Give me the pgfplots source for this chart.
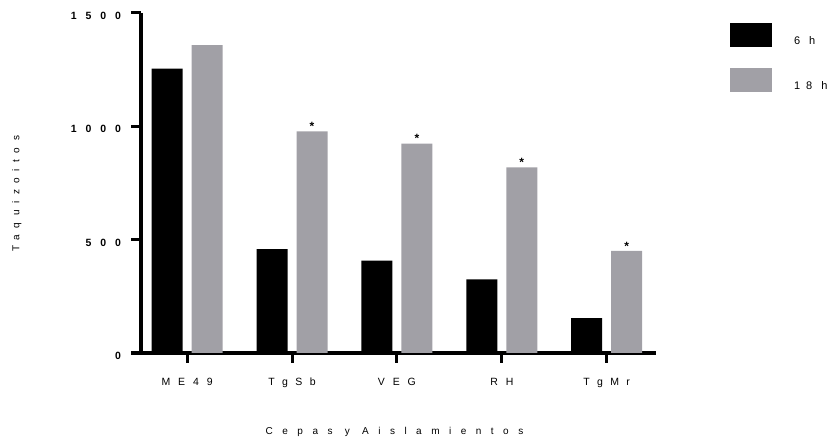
\documentclass[border=0pt]{standalone}
\usepackage{fontspec}
\setmainfont{Liberation Sans}
\usepackage{pgfplots}
\pgfplotsset{compat=1.18}
\definecolor{bargray}{RGB}{161,160,166}
\newcommand{\ls}[2]{{\addfontfeature{LetterSpace=#1}#2}}
\begin{document}
\begin{tikzpicture}
\path[use as bounding box] (0,0) rectangle (840bp,438bp);
\begin{axis}[
  at={(141bp,85bp)}, anchor=south west,
  scale only axis, width=515bp, height=340bp,
  xmin=-0.44, xmax=4.47, ymin=0, ymax=1500,
  axis x line=bottom, axis y line=left,
  axis line style={-, line width=3bp, black},
  tick align=outside,
  major tick length=9.5bp,
  tick style={line width=3bp, black},
  xtick={0,1,2,3,4},
  xticklabels={\ls{75}{ME49}, \ls{70}{TgSb}, \ls{75}{VEG}, \ls{75}{RH}, \ls{70}{TgMr}},
  ytick={0,500,1000,1500},
  yticklabels={{\bfseries\ls{85}{0}}, {\bfseries\ls{85}{500}}, {\bfseries\ls{85}{1000}}, {\bfseries\ls{85}{1500}}},
  xticklabel style={font=\fontsize{10.5bp}{12bp}\selectfont, yshift=-12bp},
  yticklabel style={font=\fontsize{10.5bp}{12bp}\selectfont, xshift=-7bp, yshift=-3bp},
  xlabel={\ls{95}{Cepas y Aislamientos}},
  xlabel style={at={(axis description cs:0.5,-0.233)}, anchor=center, xshift=-4bp, font=\fontsize{10bp}{12bp}\selectfont},
  ylabel={\ls{66}{Taquizoitos}},
  ylabel style={at={(axis description cs:-0.241,0.468)}, anchor=center, font=\fontsize{10bp}{12bp}\selectfont},
  legend style={at={(axis description cs:1.1437,0.9706)}, anchor=north west, draw=none, fill=none,
    inner sep=0pt, outer sep=0pt, row sep=21bp,
    font=\fontsize{11bp}{13bp}\selectfont,
    nodes={inner sep=0pt}},
  legend cell align=left,
  clip=false,
]
\addplot[ybar, bar width=31bp, bar shift=-20bp, fill=black, draw=none,
  legend image code/.code={\fill[black] (0bp,-6bp) rectangle (42bp,18bp); \path (64bp,0bp);}]
  coordinates {(0,1255) (1,458) (2,408) (3,325) (4,154)};
\addlegendentry{\ls{55}{6 h}}
\addplot[ybar, bar width=31bp, bar shift=20bp, fill=bargray, draw=none,
  legend image code/.code={\fill[bargray] (0bp,-6bp) rectangle (42bp,18bp); \path (64bp,0bp);}]
  coordinates {(0,1358) (1,978) (2,924) (3,819) (4,450)};
\addlegendentry{\ls{55}{18 h}}
\addplot[ybar, bar width=31bp, bar shift=20bp, draw=none, fill=none, forget plot,
  nodes near coords={\textbf{*}},
  every node near coord/.style={font=\fontsize{12bp}{14bp}\selectfont, inner sep=0.5bp, anchor=south, black, xshift=20bp}]
  coordinates {(1,978) (2,924) (3,819) (4,450)};
\end{axis}
\end{tikzpicture}
\end{document}
